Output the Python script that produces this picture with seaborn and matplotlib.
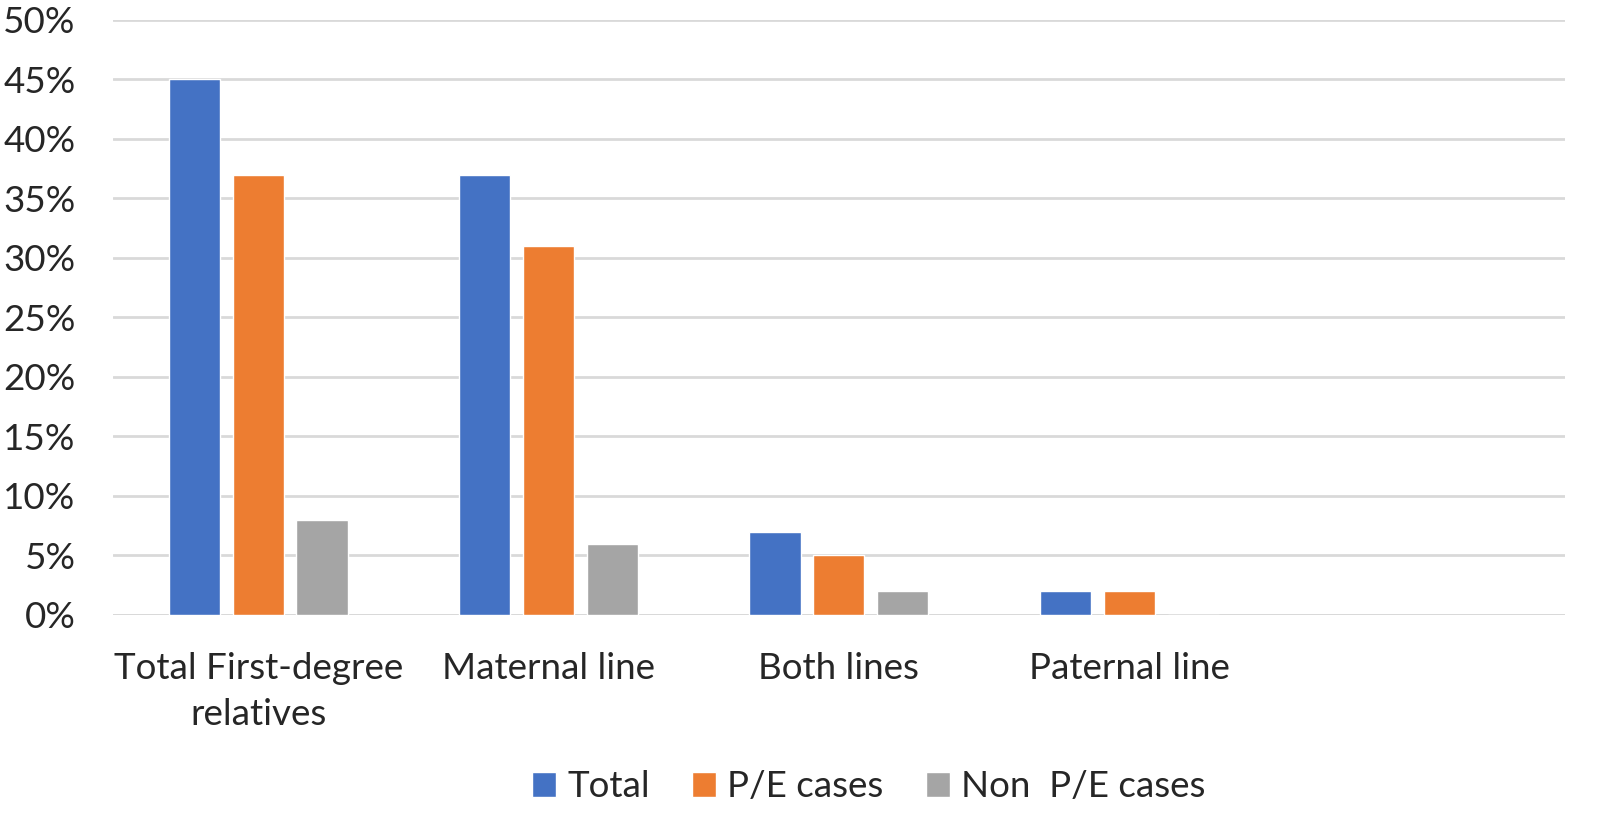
import pandas as pd
import matplotlib.pyplot as plt
import seaborn as sns
from matplotlib.ticker import PercentFormatter

categories = ["Total First-degree\nrelatives", "Maternal line", "Both lines", "Paternal line", ""]
series = ["Total", "P/E cases", "Non  P/E cases"]
total = [45, 37, 7, 2]
pe_cases = [37, 31, 5, 2]
non_pe_cases = [8, 6, 2, 0]
colors = ["#4472C4", "#ED7D31", "#A5A5A5"]

rows = []
for name, vals in zip(series, [total, pe_cases, non_pe_cases]):
    for cat, v in zip(categories[:4], vals):
        rows.append({"category": cat, "series": name, "value": v})
df = pd.DataFrame(rows)

sns.set_theme(style="white")
plt.rcParams['font.family'] = ['Lato', 'DejaVu Sans']

fig, ax = plt.subplots(figsize=(16, 8.31), dpi=100)
fig.subplots_adjust(left=0.0706, right=0.978, top=0.976, bottom=0.26)

sns.barplot(data=df, x="category", y="value", hue="series", order=categories,
            hue_order=series, palette=colors, width=0.66, gap=0.2,
            saturation=1, ax=ax, errorbar=None)

ax.set_ylim(0, 50)
ax.set_yticks(range(0, 51, 5))
ax.yaxis.set_major_formatter(PercentFormatter(decimals=0))
ax.yaxis.grid(True, color="#d9d9d9", linewidth=2)
ax.set_axisbelow(True)
sns.despine(ax=ax, left=True, bottom=True)
ax.axhline(0, color="#d9d9d9", linewidth=2, zorder=0)
ax.set_xlabel("")
ax.set_ylabel("")
ax.tick_params(axis="y", labelsize=26.5, pad=27, length=0)
ax.tick_params(axis="x", labelsize=26.5, pad=27, length=0)
for lbl in ax.get_xticklabels():
    lbl.set_linespacing(1.45)

ax.legend(loc="center", bbox_to_anchor=(0.543, 0.053), bbox_transform=fig.transFigure,
          ncol=3, frameon=False, fontsize=26.5, handlelength=0.65, handleheight=0.65,
          handletextpad=0.3, columnspacing=1.15)

fig.savefig("out.png", dpi=100)
